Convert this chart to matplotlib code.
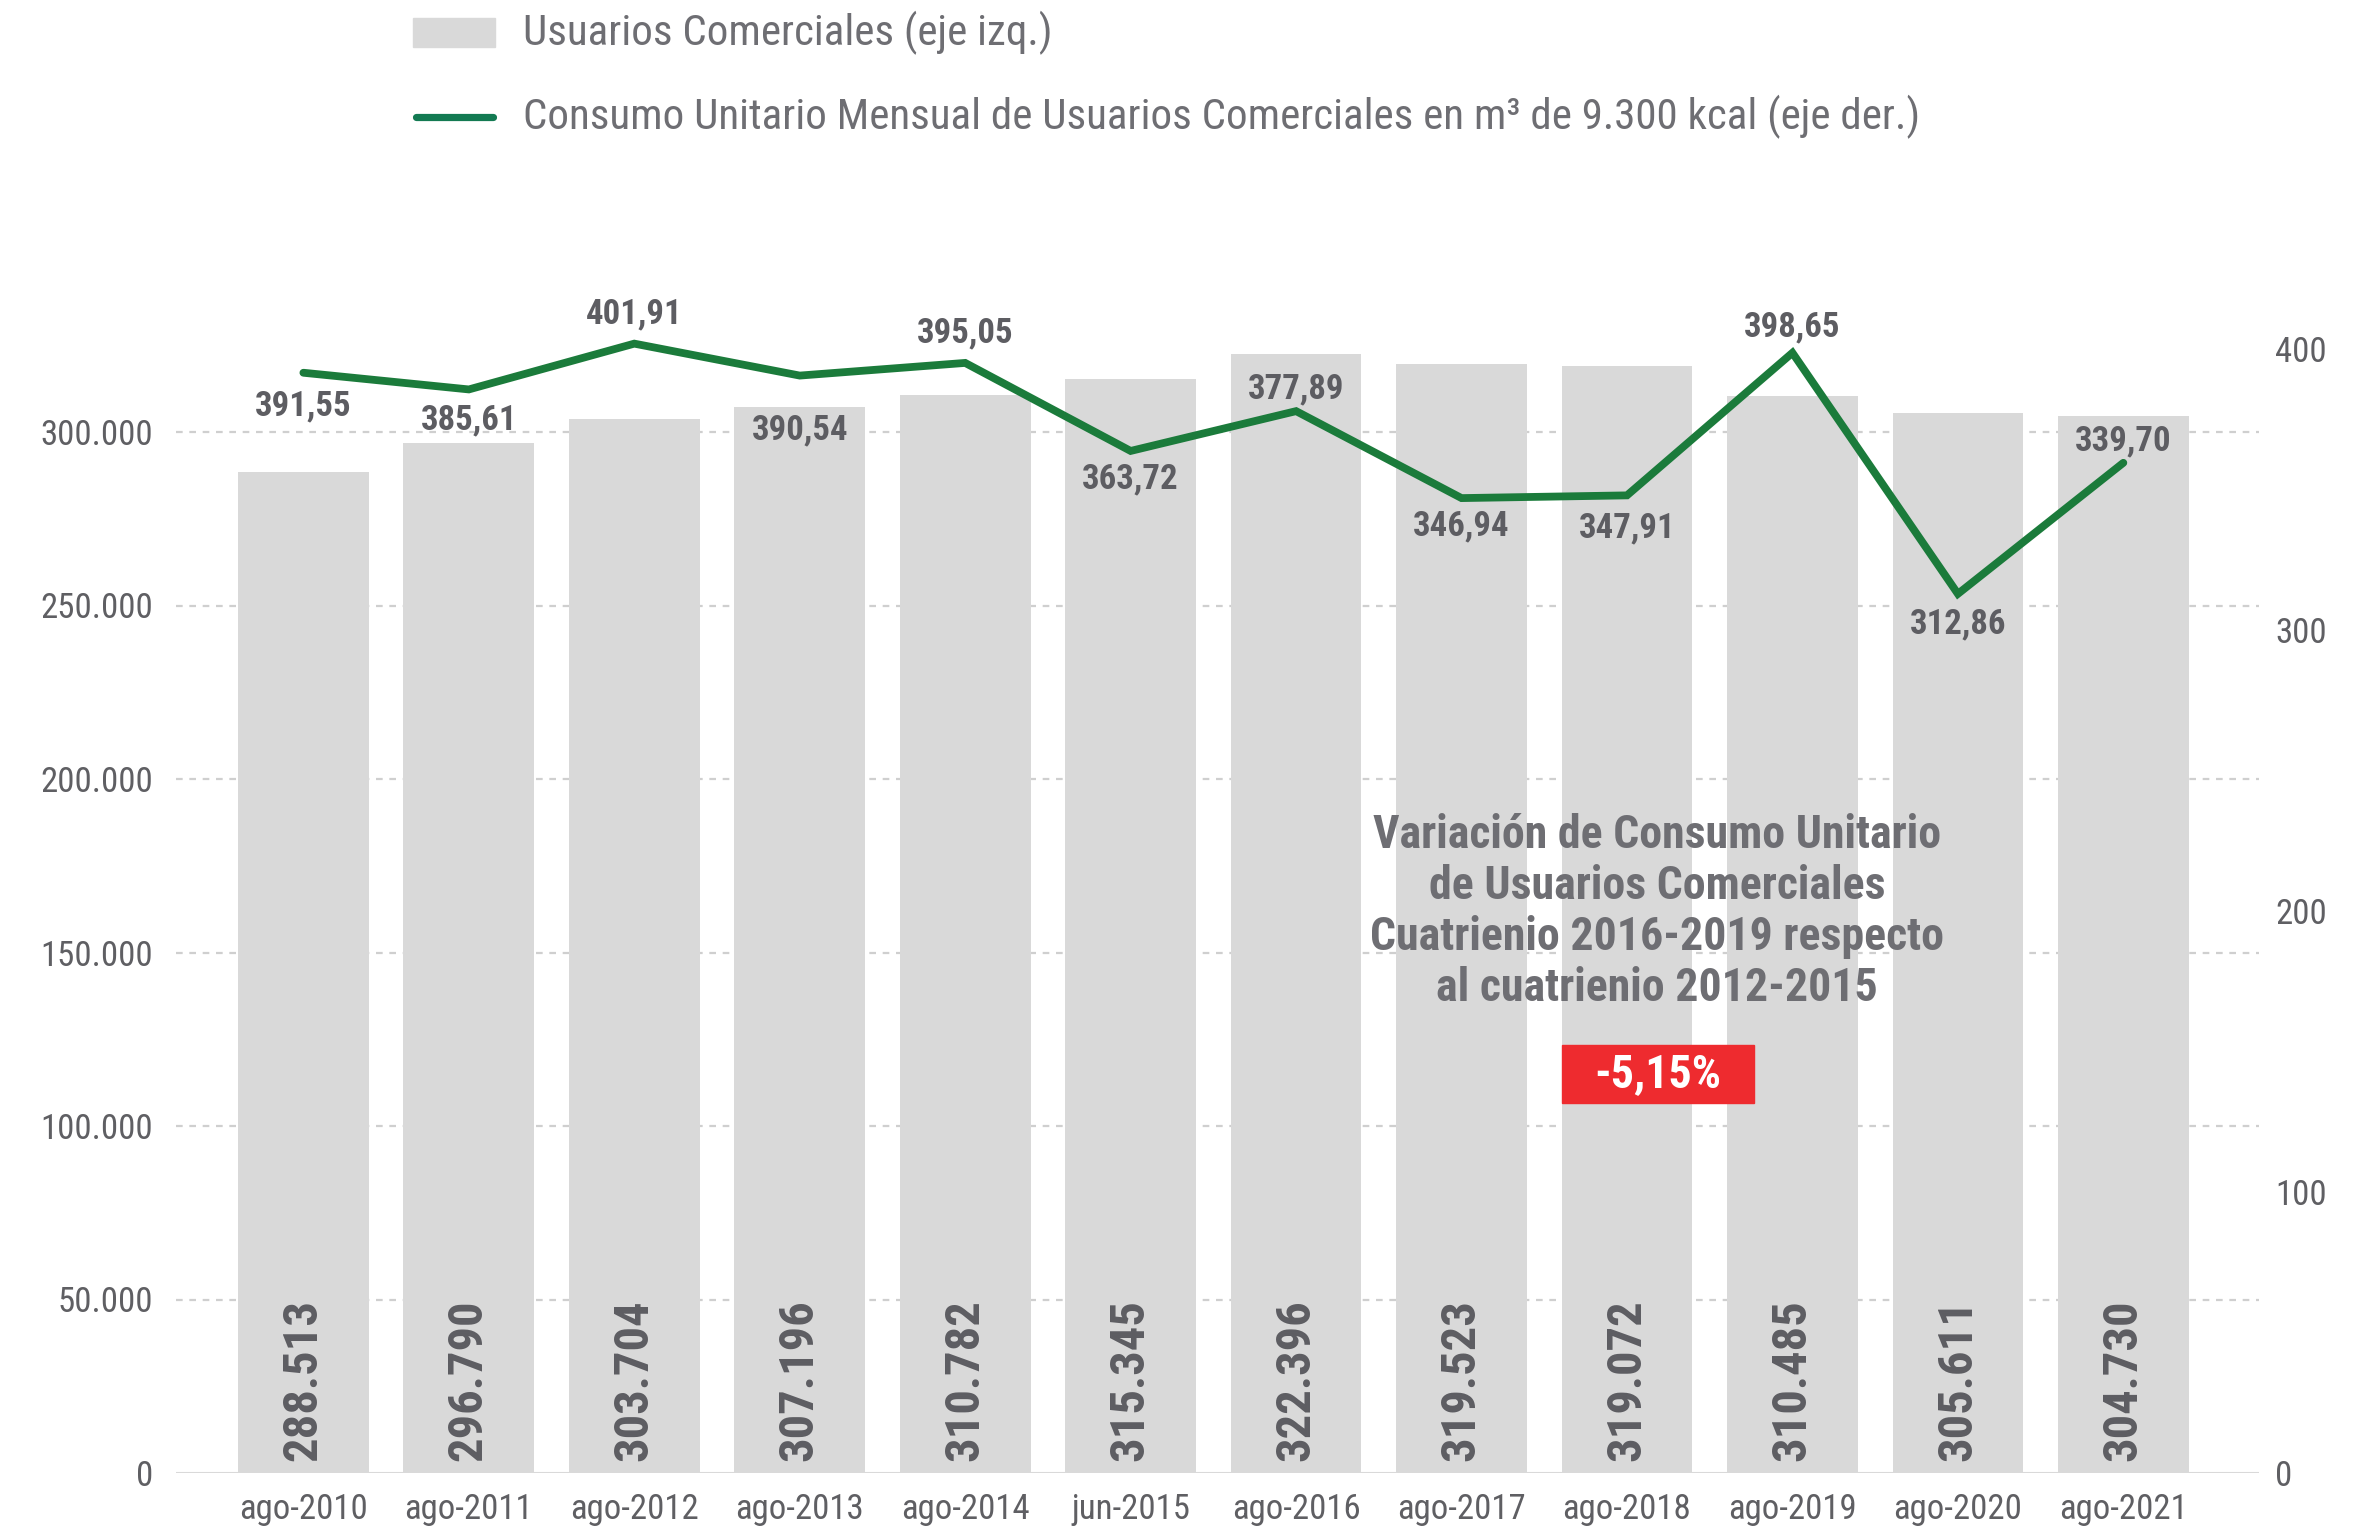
import matplotlib
matplotlib.use("Agg")
import matplotlib.pyplot as plt
from matplotlib import font_manager as fm
from matplotlib.patches import Rectangle
from matplotlib.lines import Line2D

# ---------------- data ----------------
periods = ["ago-2010", "ago-2011", "ago-2012", "ago-2013", "ago-2014", "jun-2015",
           "ago-2016", "ago-2017", "ago-2018", "ago-2019", "ago-2020", "ago-2021"]
usuarios = [288513, 296790, 303704, 307196, 310782, 315345,
            322396, 319523, 319072, 310485, 305611, 304730]
usuarios_labels = ["288.513", "296.790", "303.704", "307.196", "310.782", "315.345",
                   "322.396", "319.523", "319.072", "310.485", "305.611", "304.730"]
consumo = [391.55, 385.61, 401.91, 390.54, 395.05, 363.72,
           377.89, 346.94, 347.91, 398.65, 312.86, 359.5]
consumo_labels = ["391,55", "385,61", "401,91", "390,54", "395,05", "363,72",
                  "377,89", "346,94", "347,91", "398,65", "312,86", "339,70"]
left_ticks = [0, 50000, 100000, 150000, 200000, 250000, 300000]
left_tick_labels = ["0", "50.000", "100.000", "150.000", "200.000", "250.000", "300.000"]
right_ticks = [0, 100, 200, 300, 400]
right_tick_labels = ["0", "100", "200", "300", "400"]
legend_bar = "Usuarios Comerciales (eje izq.)"
legend_line = "Consumo Unitario Mensual de Usuarios Comerciales en m³ de 9.300 kcal (eje der.)"
note_lines = ["Variación de Consumo Unitario", "de Usuarios Comerciales",
              "Cuatrienio 2016-2019 respecto", "al cuatrienio 2012-2015"]
note_value = "-5,15%"

# label offsets (pixels, positive = downwards)
label_dy = [33, 30, -30, 54, -30, 28, -22, 28, 33, -26, 30, -22]

# ---------------- fonts ----------------
avail = {f.name for f in fm.fontManager.ttflist}
FONT = "DejaVu Sans"
for cand in ["Roboto Condensed", "Liberation Sans Narrow", "Open Sans Condensed", "Roboto"]:
    if cand in avail:
        FONT = cand
        break
plt.rcParams["font.family"] = [FONT, "DejaVu Sans"]

W, H = 2376, 1531
DPI = 100
PX = 72.0 / DPI  # points per pixel

BAR_C = "#d9d9d9"
LINE_C = "#1b7b3b"
LEG_LINE_C = "#137a52"
TXT_C = "#5d5d62"
TICK_C = "#5f5f63"
NOTE_C = "#6e6e73"
RED = "#ee2b2f"

fig = plt.figure(figsize=(W / DPI, H / DPI), dpi=DPI)

def fx(x):
    return x / W

def fy(y):
    return 1 - y / H

ax_left, ax_right = 176, 2259
ax_bottom, ax_top = 1473, 200
ax = fig.add_axes([fx(ax_left), fy(ax_bottom), fx(ax_right - ax_left), (ax_bottom - ax_top) / H])
ax2 = ax.twinx()

# scales: 173.5 px per 50000 (left), 2.81 px per unit (right)
ax.set_ylim(0, (ax_bottom - ax_top) / 173.5 * 50000)
ax2.set_ylim(0, (ax_bottom - ax_top) / 2.81)
ax.set_xlim(-0.77, 11.82)

x = list(range(len(periods)))
ax.bar(x, usuarios, width=0.79, color=BAR_C, zorder=2)

for xi, lab in zip(x, usuarios_labels):
    ax.annotate(lab, (xi, 0), xytext=(0, 12 * PX), textcoords="offset points",
                rotation=90, ha="center", va="bottom", fontsize=35, fontweight="bold",
                color=TXT_C, zorder=3)

# grid
for t in left_ticks[1:]:
    ax.axhline(t, color="#cfcfcf", lw=1.6, ls=(0, (3, 3)), zorder=1)
ax.axhline(0, color="#d9d9d9", lw=2.2, zorder=4)

ax.set_yticks(left_ticks)
ax.set_yticklabels(left_tick_labels)
ax.set_xticks(x)
ax.set_xticklabels(periods)
ax.tick_params(axis="y", length=0, pad=23 * PX, labelsize=25, labelcolor=TICK_C)
ax.tick_params(axis="x", length=0, pad=20 * PX, labelsize=25, labelcolor=TICK_C)
for lbl in ax.get_yticklabels():
    lbl.set_y(lbl.get_position()[1])
ax2.set_yticks(right_ticks)
ax2.set_yticklabels(right_tick_labels)
ax2.tick_params(axis="y", length=0, pad=16 * PX, labelsize=25, labelcolor=TICK_C)
for a in (ax, ax2):
    for s in a.spines.values():
        s.set_visible(False)

ax2.plot(x, consumo, color=LINE_C, lw=5.6, solid_joinstyle="miter",
         solid_capstyle="round", zorder=5)
for xi, v, lab, dy in zip(x, consumo, consumo_labels, label_dy):
    ax2.annotate(lab, (xi, v), xytext=(0, -dy * PX), textcoords="offset points",
                 ha="center", va="center", fontsize=25, fontweight="bold", color=TXT_C)

# legend (manual)
fig.add_artist(Rectangle((fx(413), fy(47)), fx(82), 29 / H, color=BAR_C,
                         transform=fig.transFigure))
fig.add_artist(Line2D([fx(416), fx(493)], [fy(117), fy(117)], color=LEG_LINE_C,
                      lw=5.2, solid_capstyle="round", transform=fig.transFigure))
fig.text(fx(523), fy(33), legend_bar, ha="left", va="center", fontsize=31, color=NOTE_C)
fig.text(fx(523), fy(117), legend_line, ha="left", va="center", fontsize=31, color=NOTE_C)

# note
for i, line in enumerate(note_lines):
    fig.text(fx(1657), fy(835 + i * 51), line, ha="center", va="center",
             fontsize=33, fontweight="bold", color=NOTE_C)
fig.add_artist(Rectangle((fx(1562), fy(1103)), fx(192), 58 / H, color=RED,
                         transform=fig.transFigure, zorder=6))
fig.text(fx(1658), fy(1074), note_value, ha="center", va="center", fontsize=33,
         fontweight="bold", color="white", zorder=7)

fig.savefig("out.png", dpi=DPI)
